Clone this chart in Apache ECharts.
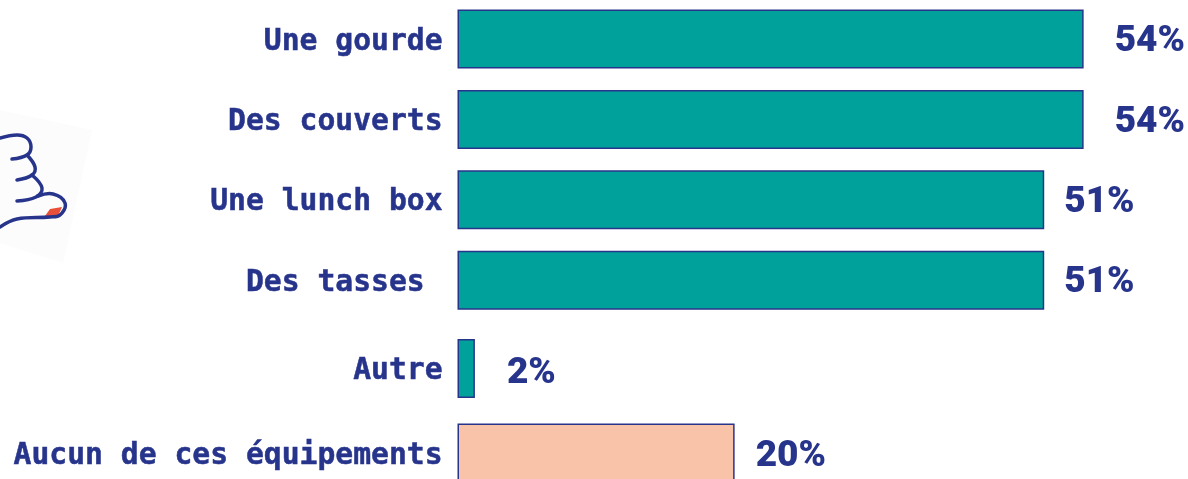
<!DOCTYPE html>
<html>
<head>
<meta charset="utf-8">
<style>
  html, body { margin: 0; padding: 0; background: #fff; }
  #main { width: 1188px; height: 479px; }
</style>
</head>
<body>
<div id="main"></div>
<script src="https://cdn.jsdelivr.net/npm/echarts@6/dist/echarts.min.js"></script>
<script>
// rows, top to bottom
var categories = ["Une gourde", "Des couverts", "Une lunch box", "Des tasses ", "Autre", "Aucun de ces équipements"];
// printed labels
var printedLabels = ["54%", "54%", "51%", "51%", "2%", "20%"];
// bar lengths as drawn in the picture (not quite proportional to the printed labels)
var barLengths = [54, 54, 50.6, 50.6, 1.5, 23.9];

// gaps between rows are uneven in the source, so the axis has thin slots and bars sit every few slots
var slotsToNext = [20, 20, 20, 22, 21, 0];
var labelGaps = [31, 31, 20, 20, 32, 21];
var labelDrops = [3, 3, 3, 3, 5, 4];
var NAVY = "#27348b";
var TEAL = "#00a19a";
var PEACH = "#f9c3a9";

var slotNames = [];
var slotData = [];
categories.forEach(function (name, i) {
  slotNames.push(name);
  slotData.push({
    value: barLengths[i],
    itemStyle: { color: i === 5 ? PEACH : TEAL },
    label: { distance: labelGaps[i], offset: [0, labelDrops[i]], formatter: printedLabels[i] }
  });
  for (var k = 1; k < slotsToNext[i]; k++) {
    slotNames.push("");
    slotData.push(null);
  }
});

function handStroke(points) {
  return {
    type: "polyline",
    silent: true,
    shape: { points: points, smooth: 0.4 },
    style: { fill: null, stroke: NAVY, lineWidth: 3.5, lineCap: "round", lineJoin: "round" }
  };
}

var myChart = echarts.init(document.getElementById("main"));
myChart.setOption({
  animation: false,
  backgroundColor: "#fff",
  grid: { left: 457.5, right: 0, top: 37, height: 418 },
  xAxis: { type: "value", min: 0, max: 63, show: false },
  yAxis: {
    type: "category",
    inverse: true,
    data: slotNames,
    axisLine: { show: false },
    axisTick: { show: false },
    axisLabel: {
      interval: 0,
      margin: 15,
      verticalAlign: "top",
      lineHeight: 6,
      color: NAVY,
      fontFamily: "DejaVu Sans Mono",
      fontWeight: "bold",
      fontSize: 29.7,
      textBorderColor: NAVY,
      textBorderWidth: 0.5
    }
  },
  series: [{
    type: "bar",
    barWidth: 59,
    clip: false,
    silent: true,
    data: slotData,
    itemStyle: { borderColor: NAVY, borderWidth: 1.5 },
    label: {
      show: true,
      position: "right",
      color: NAVY,
      fontFamily: "Roboto",
      fontWeight: 900,
      fontSize: 37
    }
  }],
  // little hand drawing on the left
  graphic: [
    { type: "polygon", silent: true, shape: { points: [[0, 110], [92, 130], [63, 263], [0, 243]] }, style: { fill: "#fcfcfd" } },
    { type: "polygon", silent: true, shape: { points: [[45, 216], [50, 209], [62, 207], [58, 216]] }, style: { fill: "#e8503a" } },
    handStroke([[0, 138], [17, 135], [27, 138], [31, 147], [27, 155], [12, 159]]),
    handStroke([[27, 155], [35, 167], [32, 175], [17, 180]]),
    handStroke([[32, 175], [42, 188], [36, 197], [17, 201]]),
    handStroke([[38, 196], [53, 194], [65, 203], [60, 215], [50, 217], [17, 219], [0, 227]])
  ]
});
</script>
</body>
</html>
